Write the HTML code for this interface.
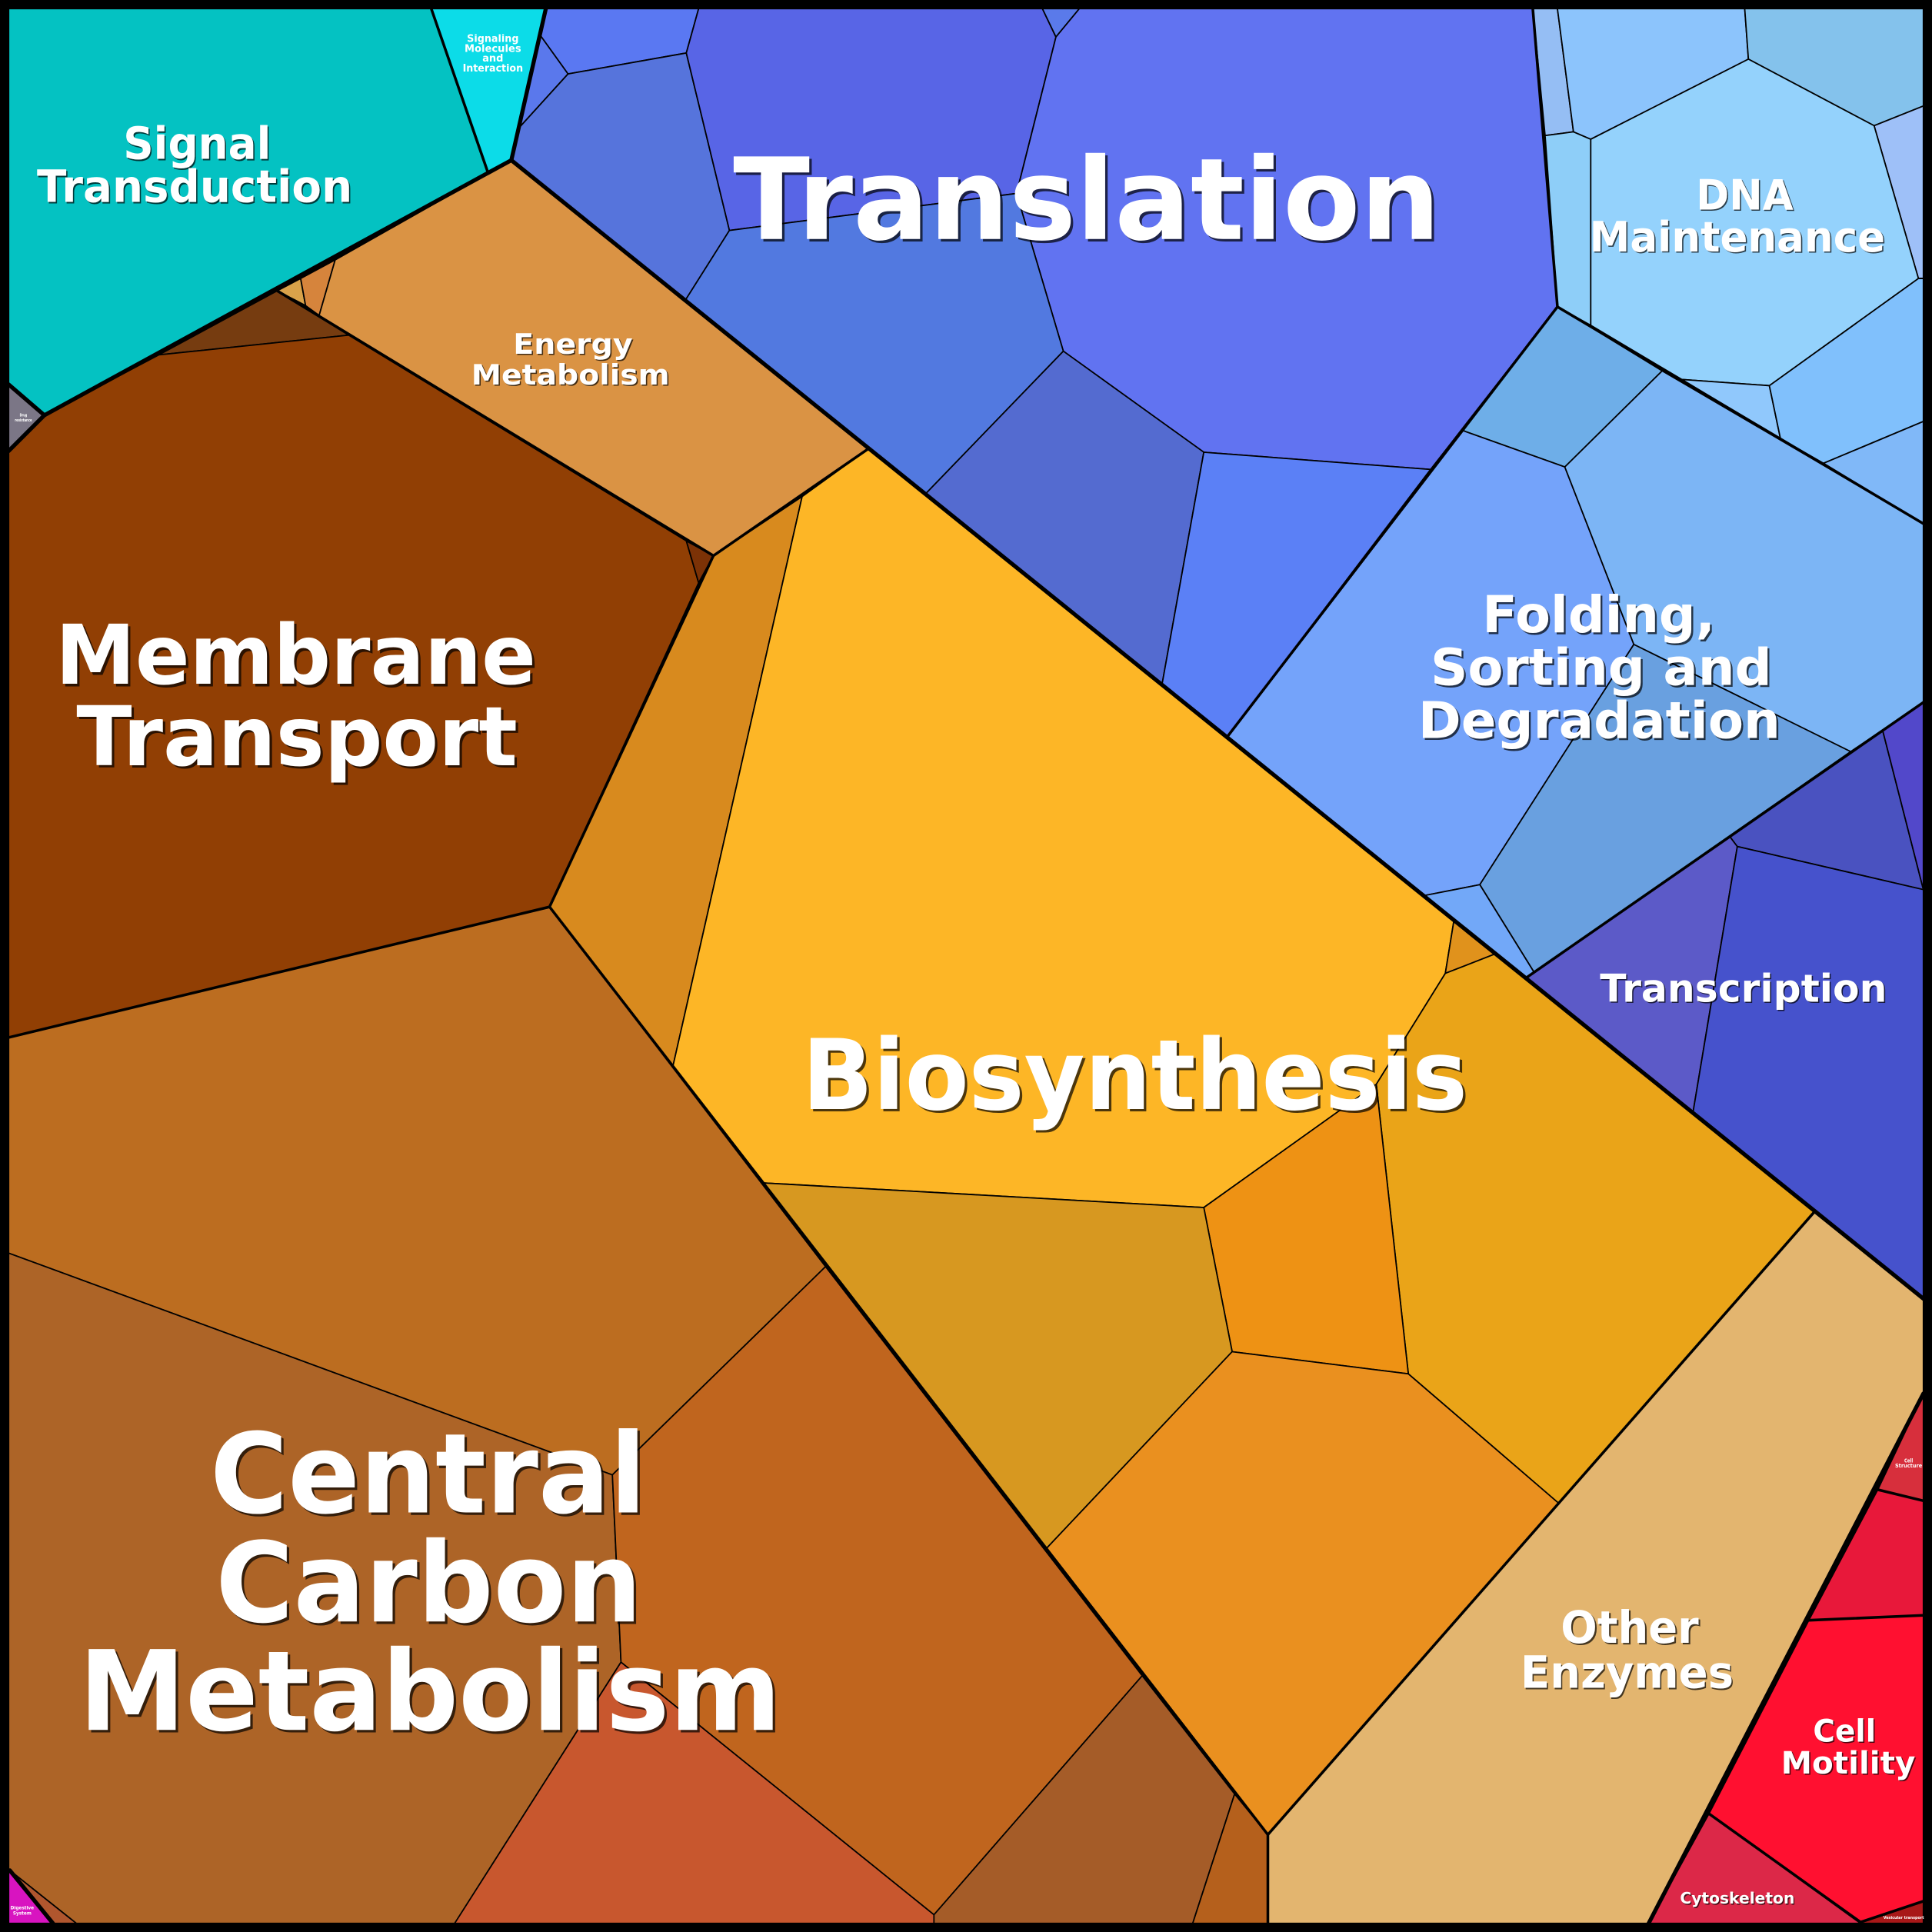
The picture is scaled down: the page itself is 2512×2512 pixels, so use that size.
<!DOCTYPE html>
<html><head><meta charset="utf-8"><style>
html,body{margin:0;padding:0;background:#000;}
svg{display:block;}
text{font-family:"DejaVu Sans","Liberation Sans",sans-serif;font-weight:bold;text-anchor:middle;}
.w{fill:#fff;}
.s{fill:#000;fill-opacity:0.7;}
</style></head><body>
<svg xmlns="http://www.w3.org/2000/svg" width="2512" height="2512" viewBox="0 0 1568 1568">
<rect x="0" y="0" width="1568" height="1568" fill="#000"/>
<g stroke="#000" stroke-width="1.1" stroke-linejoin="round">
<!-- Environmental -->
<polygon fill="#04C2C2" points="7,7 350,7 396,140 36,337 7,312"/>
<polygon fill="#0CDCE8" points="350,7 443,7 415,130 396,140"/>
<polygon fill="#7B7686" points="7,312 36,337 7,366"/>
<!-- Energy -->
<polygon fill="#D9A24A" points="225,236 244,226 248,248"/>
<polygon fill="#D6843C" points="244,226 272,211 259,256 248,248"/>
<polygon fill="#DA9344" points="272,211 415,130 705,364 579,451 259,256"/>
<!-- Membrane -->
<polygon fill="#763C10" points="225,236 283,272 129,288"/>
<polygon fill="#913F04" points="36,337 129,288 283,272 557,439 567,473 446,736 7,842 7,366"/>
<polygon fill="#7C3206" points="557,439 579,451 567,473"/>
<!-- Biosynthesis -->
<polygon fill="#D88A1E" points="579,451 651,403 546,866 446,736"/>
<polygon fill="#FDB626" points="651,403 705,364 1180,747 1173,790 1117,880 977,980 619,960 546,866"/>
<polygon fill="#E0921C" points="1180,747 1214,774 1173,790"/>
<polygon fill="#EAA418" points="1173,790 1214,774 1473,983 1265,1220 1143,1115 1117,880"/>
<polygon fill="#EE9214" points="977,980 1117,880 1143,1115 1000,1097"/>
<polygon fill="#D79820" points="619,960 977,980 1000,1097 849,1257"/>
<polygon fill="#EA901F" points="1000,1097 1143,1115 1265,1220 1029,1489 849,1257"/>
<!-- Central carbon -->
<polygon fill="#BC6D20" points="7,842 446,736 670,1028 497,1197 7,1017"/>
<polygon fill="#AD6427" points="7,1017 497,1197 504,1349 369,1561 62,1561 8,1518 7,1518"/>
<polygon fill="#C0651E" points="497,1197 670,1028 927,1360 758,1554 504,1349"/>
<polygon fill="#C8572E" points="504,1349 758,1554 758,1561 369,1561"/>
<polygon fill="#A55C28" points="927,1360 1002,1456 968,1561 758,1561 758,1554"/>
<polygon fill="#B5601C" points="1002,1456 1029,1489 1029,1561 968,1561"/>
<polygon fill="#B0562E" points="8,1518 62,1561 43,1561"/>
<polygon fill="#D814C0" points="7,1518 43,1561 7,1561"/>
<!-- Other enzymes -->
<polygon fill="#E3B56F" points="1473,983 1561,1054 1561,1131 1338,1561 1029,1561 1029,1489"/>
<!-- Cellular processes -->
<polygon fill="#D72F3C" points="1561,1131 1524,1209 1561,1218"/>
<polygon fill="#E8183A" points="1524,1209 1561,1218 1561,1311 1468,1315"/>
<polygon fill="#FF1030" points="1468,1315 1561,1311 1561,1543 1510,1560 1387,1472"/>
<polygon fill="#DC2848" points="1387,1472 1510,1561 1338,1561"/>
<polygon fill="#A81818" points="1510,1560 1561,1543 1561,1561 1510,1561"/>
<!-- Translation -->
<polygon fill="#5A78F2" points="443,7 567,7 557,43 461,60 438,28"/>
<polygon fill="#5A78EC" points="438,28 461,60 421,104"/>
<polygon fill="#5674DC" points="415,130 421,104 461,60 557,43 592,187 556,244"/>
<polygon fill="#5865E6" points="567,7 846,7 857,30 825,157 592,187 557,43"/>
<polygon fill="#5A7AEA" points="846,7 876,7 857,30"/>
<polygon fill="#6173F1" points="876,7 1244,7 1264,249 1161,381 977,367 863,285 825,157 857,30"/>
<polygon fill="#5279E0" points="592,187 825,157 863,285 751,401 556,244"/>
<polygon fill="#546BD0" points="863,285 977,367 943,556 751,401"/>
<polygon fill="#5B80F6" points="977,367 1161,381 996,598 943,556"/>
<!-- Folding -->
<polygon fill="#6EAEE8" points="1264,249 1349,301 1270,379 1186,349"/>
<polygon fill="#74A3FA" points="996,598 1186,349 1270,379 1326,523 1201,718 1155,727"/>
<polygon fill="#7CB5F5" points="1270,379 1349,301 1561,425 1561,570 1502,610 1326,523"/>
<polygon fill="#69A0E0" points="1326,523 1502,610 1245,789 1201,718"/>
<polygon fill="#72A8F8" points="1155,727 1201,718 1245,789 1238,794"/>
<!-- DNA -->
<polygon fill="#95BEF4" points="1244,7 1264,7 1277,107 1254,110"/>
<polygon fill="#8CC4FC" points="1264,7 1416,7 1419,48 1291,113 1277,107"/>
<polygon fill="#84C2EC" points="1416,7 1561,7 1561,86 1521,102 1419,48"/>
<polygon fill="#9EC0F8" points="1521,102 1561,86 1561,226 1557,226"/>
<polygon fill="#94D2FC" points="1291,113 1419,48 1521,102 1557,226 1436,313 1365,308 1291,264"/>
<polygon fill="#8ECEF8" points="1254,110 1277,107 1291,113 1291,264 1264,249"/>
<polygon fill="#90C8FC" points="1365,308 1436,313 1445,356"/>
<polygon fill="#80C0FC" points="1436,313 1557,226 1561,226 1561,342 1480,376 1445,356"/>
<polygon fill="#80B8F8" points="1480,376 1561,342 1561,425"/>
<!-- Transcription -->
<polygon fill="#5C5AC8" points="1238,794 1404,679 1410,687 1374,903"/>
<polygon fill="#4A52C0" points="1404,679 1528,593 1561,722 1410,687"/>
<polygon fill="#5248CA" points="1528,593 1561,570 1561,722"/>
<polygon fill="#4652CC" points="1410,687 1561,722 1561,1054 1374,903"/>
</g>
<!-- medium boundaries -->
<g fill="none" stroke="#000" stroke-width="2.2" stroke-linejoin="round" stroke-linecap="round">
<polyline points="350,7 396,140"/>
<polyline points="225,236 579,451 705,364"/>
<polyline points="579,451 446,736"/>
<polyline points="7,842 446,736 1029,1489 1029,1561"/>
<polyline points="1473,983 1029,1489"/>
<polyline points="1244,7 1264,249 996,598"/>
<polyline points="1264,249 1561,425"/>
<polyline points="1238,794 1561,570"/>
<polyline points="1524,1209 1561,1218"/>
<polyline points="1468,1315 1561,1311"/>
<polyline points="1387,1472 1510,1560 1561,1543"/>
</g>
<!-- thick boundaries -->
<g fill="none" stroke="#000" stroke-width="3.3" stroke-linejoin="round" stroke-linecap="round">
<polyline points="443,7 415,130 36,337 7,312"/>
<polyline points="36,337 7,366"/>
<polyline points="415,130 1561,1054"/>
<polyline points="1561,1131 1338,1561"/>
<polyline points="8,1518 43,1561"/>
</g>
<!-- frame -->
<path fill="#000" fill-rule="evenodd" d="M0,0H1568V1568H0Z M7.5,7.5V1560.5H1561V7.5Z"/>

<!-- labels -->
<g>
<text class="s" x="161" y="130.2" font-size="36" textLength="120" lengthAdjust="spacingAndGlyphs">Signal</text>
<text class="w" x="160" y="129" font-size="36" textLength="120" lengthAdjust="spacingAndGlyphs">Signal</text>
<text class="s" x="159" y="165.2" font-size="36" textLength="256" lengthAdjust="spacingAndGlyphs">Transduction</text>
<text class="w" x="158" y="164" font-size="36" textLength="256" lengthAdjust="spacingAndGlyphs">Transduction</text>

<text class="w" x="400" y="34" font-size="8.5" textLength="42" lengthAdjust="spacingAndGlyphs">Signaling</text>
<text class="w" x="400" y="42" font-size="8.5" textLength="46" lengthAdjust="spacingAndGlyphs">Molecules</text>
<text class="w" x="400" y="50" font-size="8.5" textLength="17" lengthAdjust="spacingAndGlyphs">and</text>
<text class="w" x="400" y="58" font-size="8.5" textLength="49" lengthAdjust="spacingAndGlyphs">Interaction</text>

<text class="w" x="19" y="338" font-size="3.5" textLength="6" lengthAdjust="spacingAndGlyphs">Drug</text>
<text class="w" x="19" y="342" font-size="3.5" textLength="14" lengthAdjust="spacingAndGlyphs">resistance</text>

<text class="s" x="466" y="288" font-size="23" textLength="97" lengthAdjust="spacingAndGlyphs">Energy</text>
<text class="w" x="465" y="287" font-size="23" textLength="97" lengthAdjust="spacingAndGlyphs">Energy</text>
<text class="s" x="464" y="313" font-size="23" textLength="161" lengthAdjust="spacingAndGlyphs">Metabolism</text>
<text class="w" x="463" y="312" font-size="23" textLength="161" lengthAdjust="spacingAndGlyphs">Metabolism</text>

<text class="s" x="884" y="196" font-size="92" textLength="574" lengthAdjust="spacingAndGlyphs">Translation</text>
<text class="w" x="882" y="194" font-size="92" textLength="574" lengthAdjust="spacingAndGlyphs">Translation</text>

<text class="s" x="1417" y="171" font-size="34" textLength="79" lengthAdjust="spacingAndGlyphs">DNA</text>
<text class="w" x="1416" y="170" font-size="34" textLength="79" lengthAdjust="spacingAndGlyphs">DNA</text>
<text class="s" x="1411" y="205" font-size="34" textLength="240" lengthAdjust="spacingAndGlyphs">Maintenance</text>
<text class="w" x="1410" y="204" font-size="34" textLength="240" lengthAdjust="spacingAndGlyphs">Maintenance</text>

<text class="s" x="1299" y="514.5" font-size="41" textLength="189" lengthAdjust="spacingAndGlyphs">Folding,</text>
<text class="w" x="1297.5" y="513" font-size="41" textLength="189" lengthAdjust="spacingAndGlyphs">Folding,</text>
<text class="s" x="1301" y="557.5" font-size="41" textLength="277" lengthAdjust="spacingAndGlyphs">Sorting and</text>
<text class="w" x="1299.5" y="556" font-size="41" textLength="277" lengthAdjust="spacingAndGlyphs">Sorting and</text>
<text class="s" x="1299.5" y="600.5" font-size="41" textLength="294" lengthAdjust="spacingAndGlyphs">Degradation</text>
<text class="w" x="1298" y="599" font-size="41" textLength="294" lengthAdjust="spacingAndGlyphs">Degradation</text>

<text class="s" x="1416" y="814" font-size="31" textLength="233" lengthAdjust="spacingAndGlyphs">Transcription</text>
<text class="w" x="1415" y="813" font-size="31" textLength="233" lengthAdjust="spacingAndGlyphs">Transcription</text>

<text class="s" x="242" y="557" font-size="67" textLength="390" lengthAdjust="spacingAndGlyphs">Membrane</text>
<text class="w" x="240" y="555" font-size="67" textLength="390" lengthAdjust="spacingAndGlyphs">Membrane</text>
<text class="s" x="243" y="623" font-size="67" textLength="358" lengthAdjust="spacingAndGlyphs">Transport</text>
<text class="w" x="241" y="621" font-size="67" textLength="358" lengthAdjust="spacingAndGlyphs">Transport</text>

<text class="s" x="923" y="902" font-size="79" textLength="540" lengthAdjust="spacingAndGlyphs">Biosynthesis</text>
<text class="w" x="921" y="900" font-size="79" textLength="540" lengthAdjust="spacingAndGlyphs">Biosynthesis</text>

<text class="s" x="349.5" y="1229.5" font-size="90" textLength="354" lengthAdjust="spacingAndGlyphs">Central</text>
<text class="w" x="347.5" y="1227.5" font-size="90" textLength="354" lengthAdjust="spacingAndGlyphs">Central</text>
<text class="s" x="350" y="1318" font-size="90" textLength="346" lengthAdjust="spacingAndGlyphs">Carbon</text>
<text class="w" x="348" y="1316" font-size="90" textLength="346" lengthAdjust="spacingAndGlyphs">Carbon</text>
<text class="s" x="351" y="1406" font-size="90" textLength="570" lengthAdjust="spacingAndGlyphs">Metabolism</text>
<text class="w" x="349" y="1404" font-size="90" textLength="570" lengthAdjust="spacingAndGlyphs">Metabolism</text>

<text class="s" x="1324" y="1334.5" font-size="36" textLength="112" lengthAdjust="spacingAndGlyphs">Other</text>
<text class="w" x="1322.7" y="1333.3" font-size="36" textLength="112" lengthAdjust="spacingAndGlyphs">Other</text>
<text class="s" x="1321.5" y="1371" font-size="36" textLength="173" lengthAdjust="spacingAndGlyphs">Enzymes</text>
<text class="w" x="1320.5" y="1369.8" font-size="36" textLength="173" lengthAdjust="spacingAndGlyphs">Enzymes</text>

<text class="s" x="1498" y="1414.5" font-size="25" textLength="51" lengthAdjust="spacingAndGlyphs">Cell</text>
<text class="w" x="1497" y="1413.5" font-size="25" textLength="51" lengthAdjust="spacingAndGlyphs">Cell</text>
<text class="s" x="1501" y="1440.5" font-size="25" textLength="109" lengthAdjust="spacingAndGlyphs">Motility</text>
<text class="w" x="1500" y="1439.5" font-size="25" textLength="109" lengthAdjust="spacingAndGlyphs">Motility</text>

<text class="s" x="1410.8" y="1545.8" font-size="13" textLength="93" lengthAdjust="spacingAndGlyphs">Cytoskeleton</text>
<text class="w" x="1410" y="1545" font-size="13" textLength="93" lengthAdjust="spacingAndGlyphs">Cytoskeleton</text>

<text class="w" x="1549" y="1186.8" font-size="4.3" textLength="7" lengthAdjust="spacingAndGlyphs">Cell</text>
<text class="w" x="1549" y="1191" font-size="4.3" textLength="22" lengthAdjust="spacingAndGlyphs">Structure</text>

<text class="w" x="1545" y="1557.5" font-size="3.4" textLength="33" lengthAdjust="spacingAndGlyphs">Vesicular transport</text>

<text class="w" x="18" y="1549.5" font-size="3.8" textLength="19" lengthAdjust="spacingAndGlyphs">Digestive</text>
<text class="w" x="18" y="1553.8" font-size="3.8" textLength="15" lengthAdjust="spacingAndGlyphs">System</text>
</g>
</svg>
</body></html>
